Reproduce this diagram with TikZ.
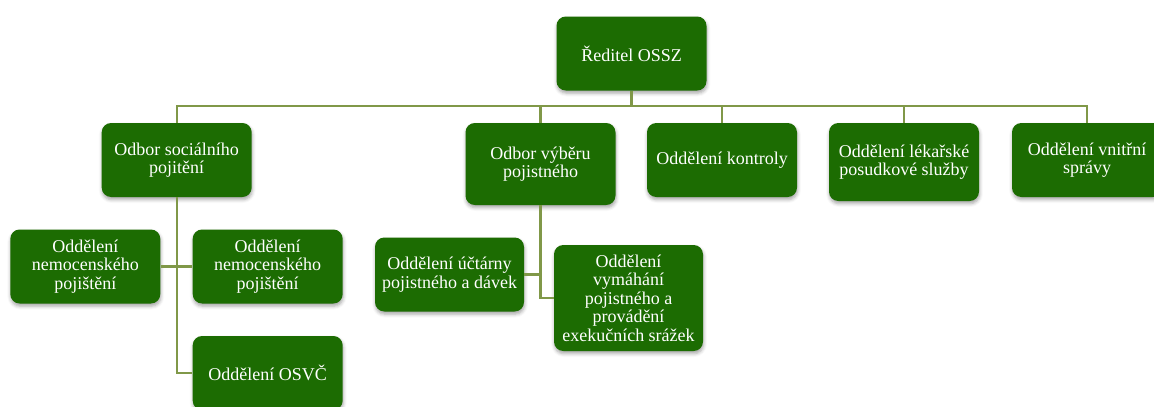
\documentclass[tikz,border=0pt]{standalone}
\usepackage{fontspec}
\setmainfont{Liberation Serif}
\usepackage{xcolor}
\usetikzlibrary{shadows.blur}

\definecolor{boxgreen}{RGB}{28,108,2}
\definecolor{linegreen}{RGB}{128,152,72}

\begin{document}
\begin{tikzpicture}[x=0.75pt,y=-0.75pt,
    unit/.style={rectangle, rounded corners=7pt, fill=boxgreen, text=white,
        align=center, inner sep=2pt, minimum width=112.5pt, minimum height=55.5pt,
        font=\fontsize{13.5}{13.9}\selectfont,
        blur shadow={shadow xshift=0.4pt, shadow yshift=-2pt, shadow blur radius=2.5pt, shadow opacity=35}},
    conn/.style={draw=linegreen, line width=1.6pt}]

                \useasboundingbox (0,0) rectangle (1154,407);

                \coordinate (bus) at (0,106);

                \node[unit] (reditel) at (631.5,53.5) {Ředitel OSSZ};

                \node[unit] (socialni) at (176.7,160) {Odbor sociálního\\pojitění};
                \node[unit, minimum height=61.5pt] (vyber) at (540.5,164) {Odbor výběru\\pojistného};
                \node[unit] (kontrola) at (722,160) {Oddělení kontroly};
                \node[unit, minimum height=58.5pt] (lekarska) at (904,162) {Oddělení lékařské\\posudkové služby};
                \node[unit] (vnitrni) at (1087,160) {Oddělení vnitřní\\správy};

                \node[unit] (nemocA) at (85.3,266.5) {Oddělení\\nemocenského\\pojištění};
                \node[unit] (nemocB) at (267.7,266.5) {Oddělení\\nemocenského\\pojištění};
                \node[unit] (osvc) at (267.7,373) {Oddělení OSVČ};

                \node[unit, minimum width=111.75pt] (uctarna) at (449.5,274.5) {Oddělení účtárny\\pojistného a dávek};
                \node[unit, minimum width=111.75pt, minimum height=79.5pt] (vymahani) at (628.5,298) {Oddělení\\vymáhání\\pojistného a\\provádění\\exekučních srážek};

                % ředitel a odbory
                \draw[conn] (reditel.south) -- (reditel.south |- bus);
                \draw[conn] (socialni.north) |- (bus -| vnitrni) -- (vnitrni.north);
                \foreach \u in {vyber,kontrola,lekarska}
                    \draw[conn] (\u.north) -- (\u.north |- bus);

                % odbor sociálního pojištění
                \draw[conn] (socialni.south) |- (osvc.west);
                \draw[conn] (nemocA.east) -- (nemocB.west);

                % odbor výběru pojistného
                \draw[conn] (vyber.south) |- (vymahani.west);
                \draw[conn] (uctarna.east) -- (uctarna.east -| vyber.south);
            \end{tikzpicture}
\end{document}
